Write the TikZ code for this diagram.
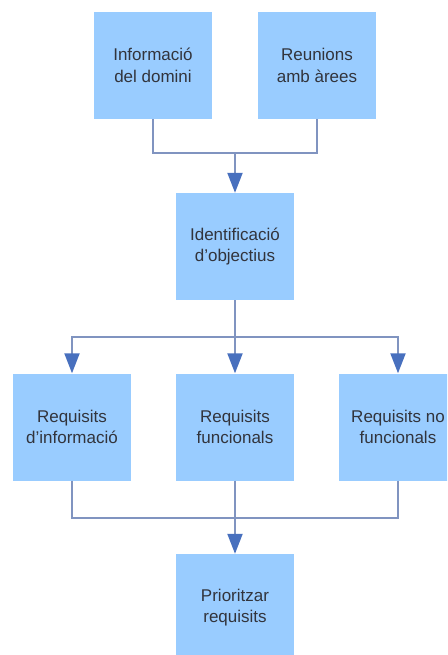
\documentclass[tikz,border=0pt]{standalone}
\usepackage{fontspec}
\setmainfont{Liberation Sans}
\usetikzlibrary{arrows.meta}

\definecolor{boxblue}{RGB}{153,204,255}
\definecolor{lineblue}{RGB}{128,148,192}
\definecolor{tipblue}{RGB}{72,112,190}
\definecolor{txtgrey}{RGB}{50,52,60}

\tikzset{
  block/.style={fill=boxblue, minimum width=118pt, minimum height=107pt,
    align=center, text=txtgrey, inner sep=0pt,
    font=\fontsize{17pt}{21.7pt}\selectfont},
  link/.style={draw=lineblue, line width=2pt},
  arrow/.style={link, -{Triangle[length=20pt,width=15pt,color=tipblue]}}
}

\begin{document}
\begin{tikzpicture}[x=1pt,y=-1pt]
\useasboundingbox (0,0) rectangle (447,655);
\clip (0,0) rectangle (447,655);

\node[block] (info) at (153,65.5) {Informació\\del domini};
\node[block] (reun) at (317,65.5) {Reunions\\amb àrees};
\node[block] (ident) at (235,246.5) {Identificació\\d’objectius};
\node[block] (reqinfo) at (72,427) {Requisits\\d’informació};
\node[block] (reqfunc) at (235,427) {Requisits\\funcionals};
\node[block] (reqnf) at (398,427) {Requisits no\\funcionals};
\node[block] (prior) at (235,607.5) {Prioritzar\\requisits};

\coordinate (join1) at (235,153);
\coordinate (split) at (235,337);
\coordinate (join2) at (235,518);

\draw[link] (info.south) |- (join1);
\draw[link] (reun.south) |- (join1);
\draw[arrow] (join1) -- (ident.north);

\draw[link] (ident.south) -- (split);
\draw[arrow] (split) -| (reqinfo.north);
\draw[arrow] (split) -- (reqfunc.north);
\draw[arrow] (split) -| (reqnf.north);

\draw[link] (reqinfo.south) |- (join2);
\draw[link] (reqnf.south) |- (join2);
\draw[link] (reqfunc.south) -- (join2);
\draw[arrow] (join2) -- (prior.north);
\end{tikzpicture}
\end{document}
